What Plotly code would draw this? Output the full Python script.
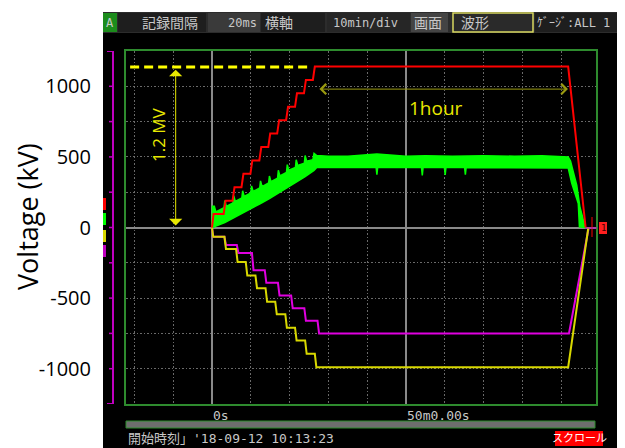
import plotly.graph_objects as go

# ---------------- data ----------------
# time in minutes (10 min/div, 0 s at the first solid line), voltage in kV
red_pts = [(0, 0), (0.4, 95), (3.0, 95), (3.5, 190), (5.3, 190), (5.8, 285), (7.6, 285), (8.1, 380),
           (9.9, 380), (10.4, 475), (12.2, 475), (12.7, 570), (14.5, 570), (15.0, 665), (16.8, 665),
           (17.3, 760), (19.1, 760), (19.6, 855), (21.4, 855), (21.9, 950), (23.7, 950), (24.2, 1045),
           (26.0, 1045), (26.5, 1140), (91.8, 1140), (96.3, 0)]

yellow_pts = [(0, 0), (0.3, -66), (3.2, -66), (3.6, -152), (6.2, -152), (6.6, -245), (8.7, -245),
              (9.1, -340), (11.2, -340), (11.6, -430), (13.8, -430), (14.2, -525), (16.3, -525),
              (16.7, -615), (18.9, -615), (19.3, -710), (21.4, -710), (21.8, -800), (24.0, -800),
              (24.4, -895), (26.5, -895), (26.9, -989), (91.8, -989), (97.0, 0)]

magenta_pts = [(0, 0), (0.3, -66), (3.2, -66), (3.6, -124), (6.4, -124), (6.8, -181), (10.3, -181),
               (10.7, -302), (13.6, -302), (14.0, -392), (17.0, -392), (17.4, -482), (20.4, -482),
               (20.8, -571), (23.8, -571), (24.2, -661), (27.2, -661), (27.6, -751), (92.0, -751),
               (97.1, 0)]

green_upper = [(0.0, 0), (0.1, 150), (0.6, 150), (1.0, 110), (3.1, 140), (3.3, 190), (3.7, 150),
               (5.4, 175), (5.6, 225), (6.0, 185), (7.7, 210), (7.9, 260), (8.3, 220), (10.0, 245),
               (10.2, 295), (10.6, 255), (12.3, 280), (12.5, 330), (12.9, 290), (14.6, 315),
               (14.8, 365), (15.2, 325), (16.9, 350), (17.1, 405), (17.5, 365), (19.2, 390),
               (19.4, 445), (19.8, 405), (21.5, 425), (21.7, 480), (22.1, 440), (23.8, 455),
               (24.0, 510), (24.4, 470), (26.0, 480), (26.3, 525), (27.0, 510), (30.0, 505),
               (35.0, 505), (42.5, 520), (50.0, 505), (55.0, 508), (62.0, 505), (70.0, 508),
               (78.0, 505), (85.0, 508), (91.8, 500), (92.4, 470), (93.2, 385), (94.0, 300),
               (94.8, 150), (95.5, 70), (96.2, 0)]

green_lower = [(0.3, 0), (1.0, 10), (3.3, 35), (5.6, 65), (7.9, 100), (10.2, 135), (12.5, 170),
               (14.8, 205), (17.1, 245), (19.4, 280), (21.7, 320), (24.0, 360), (26.3, 405),
               (27.0, 425), (42.3, 425), (42.5, 375), (42.7, 425), (54.0, 425), (54.2, 368),
               (54.4, 425), (59.9, 425), (60.1, 372), (60.3, 425), (65.1, 425), (65.3, 375),
               (65.5, 425), (91.8, 422), (92.7, 315), (94.4, 170), (94.7, 5), (96.2, 0)]

y_tick_vals = [-1000, -500, 0, 500, 1000]
y_tick_text = ["-1000", "-500", "0", "500", "1000"]
x_grid_vals = [-20, -10, 10, 20, 30, 40, 60, 70, 80, 90]
y_minor_vals = [-750, -250, 250, 750]
bracket_vals = [-1000, -750, -500, -250, 0, 250, 500, 750, 1000]

# ---------------- layout geometry (reference pixels) ----------------
OFF = 8                      # page body margin
W, H = 625 - OFF, 448 - OFF  # figure size
L, R, T, B = 126, 596, 51, 404
X_RANGE = [-22.165, 98.969]
Y_RANGE = [-1250, 1250]


def px(x):
    return (x - L) / (R - L)


def py(y):
    return (B - y) / (B - T)


def unzip(pts):
    return [p[0] for p in pts], [p[1] for p in pts]


fig = go.Figure()

gx_u, gy_u = unzip(green_upper)
gx_l, gy_l = unzip(green_lower)
fig.add_trace(go.Scatter(x=gx_u + gx_l[::-1], y=gy_u + gy_l[::-1], mode="lines", fill="toself",
                         fillcolor="#00ff00", line=dict(color="#00ff00", width=1.5), hoverinfo="skip"))
for pts, col in [(magenta_pts, "#e000e0"), (yellow_pts, "#d8d800"), (red_pts, "#ff0000")]:
    xs, ys = unzip(pts)
    fig.add_trace(go.Scatter(x=xs, y=ys, mode="lines", line=dict(color=col, width=2), hoverinfo="skip"))

shapes = []
# black instrument screen
shapes.append(dict(type="rect", xref="paper", yref="paper", x0=px(103), x1=px(640), y0=py(460), y1=py(12),
                   fillcolor="black", line=dict(width=0), layer="below"))
# header bar
shapes.append(dict(type="rect", xref="paper", yref="paper", x0=px(103), x1=px(640), y0=py(33), y1=py(12),
                   fillcolor="#2c2c2c", line=dict(width=0)))
header_boxes = [(103, 117, "#1c8c1c", None), (118, 206, "#1e1e1e", None), (208, 260, "#3a3a3a", None),
                (261, 325, "#1e1e1e", None), (327, 410, "#262626", None), (411, 448, "#444444", None),
                (453, 533, "#2a2a2a", "#d8d860"), (535, 640, "#1e1e1e", None)]
for x0, x1, fc, lc in header_boxes:
    shapes.append(dict(type="rect", xref="paper", yref="paper", x0=px(x0), x1=px(x1), y0=py(32), y1=py(13),
                       fillcolor=fc, line=dict(width=1.5 if lc else 0, color=lc or fc)))
# solid 50 min line
shapes.append(dict(type="line", xref="x", yref="paper", x0=50, x1=50, y0=0, y1=1,
                   line=dict(color="#8a8a8a", width=2), layer="between"))
# yellow dashed 1.2 MV level
shapes.append(dict(type="line", xref="x", yref="y", x0=-21.1, x1=25.3, y0=1137, y1=1137,
                   line=dict(color="#ffff00", width=3, dash="9px,5px")))
# magenta scale bracket
MG = "#c000c0"
shapes.append(dict(type="line", xref="paper", yref="y", x0=px(113), x1=px(113), y0=-1250, y1=1250,
                   line=dict(color=MG, width=2)))
for yv in (-1250, 1250):
    shapes.append(dict(type="line", xref="paper", yref="y", x0=px(107), x1=px(113), y0=yv, y1=yv,
                       line=dict(color=MG, width=2)))
for yv in bracket_vals:
    shapes.append(dict(type="line", xref="paper", yref="y", x0=px(109), x1=px(113), y0=yv, y1=yv,
                       line=dict(color=MG, width=1.5)))
# channel markers at the left
for y0, y1, c in [(198, 210, "#ff0000"), (213, 225, "#00ff00"), (230, 242, "#d8d800"), (245, 257, MG)]:
    shapes.append(dict(type="rect", xref="paper", yref="paper", x0=px(103), x1=px(106), y0=py(y1), y1=py(y0),
                       fillcolor=c, line=dict(width=0)))
# trigger marker at right
shapes.append(dict(type="line", xref="paper", yref="paper", x0=px(592), x1=px(592), y0=py(237), y1=py(217),
                   line=dict(color="#ff0000", width=1)))
shapes.append(dict(type="line", xref="paper", yref="paper", x0=px(585), x1=px(597), y0=py(228), y1=py(228),
                   line=dict(color=MG, width=1)))
shapes.append(dict(type="rect", xref="paper", yref="paper", x0=px(599), x1=px(607), y0=py(234), y1=py(222),
                   fillcolor="#ff2020", line=dict(width=0)))
# scroll bar
shapes.append(dict(type="rect", xref="paper", yref="paper", x0=px(126), x1=px(595), y0=py(428), y1=py(421),
                   fillcolor="#6e6e6e", line=dict(color="#2a8a2a", width=1)))
# red scroll badge
shapes.append(dict(type="rect", xref="paper", yref="paper", x0=px(555), x1=px(603), y0=py(446), y1=py(431),
                   fillcolor="#ff0000", line=dict(width=0)))

annotations = []
HF = "DejaVu Sans Mono, Noto Sans CJK JP"
TXT = "#c8c8c8"
header_texts = [("A", 110, 12), ("記録間隔", 170, 14), ("20ms", 242, 12), ("横軸", 279, 14),
                ("10min/div", 365, 12), ("画面", 428, 14), ("波形", 475, 14)]
for txt, cx, fs in header_texts:
    annotations.append(dict(text=txt, x=px(cx), y=py(22.5), xref="paper", yref="paper", showarrow=False,
                            xanchor="center", yanchor="middle", font=dict(family=HF, size=fs, color=TXT)))
annotations.append(dict(text="ｹﾞｰｼﾞ:ALL 1", x=px(535), y=py(22.5), xref="paper", yref="paper",
                        showarrow=False, xanchor="left", yanchor="middle",
                        font=dict(family=HF, size=12, color=TXT)))
# bottom time labels
annotations.append(dict(text="0s", x=px(211), y=py(415), xref="paper", yref="paper", showarrow=False,
                        xanchor="left", yanchor="middle", font=dict(family=HF, size=13, color=TXT)))
annotations.append(dict(text="50m0.00s", x=px(405), y=py(415), xref="paper", yref="paper", showarrow=False,
                        xanchor="left", yanchor="middle", font=dict(family=HF, size=13, color=TXT)))
annotations.append(dict(text="開始時刻」'18-09-12 10:13:23", x=px(126), y=py(438), xref="paper", yref="paper",
                        showarrow=False, xanchor="left", yanchor="middle",
                        font=dict(family=HF, size=13, color=TXT)))
annotations.append(dict(text="スクロール", x=px(579), y=py(438.5), xref="paper", yref="paper", showarrow=False,
                        xanchor="center", yanchor="middle", font=dict(family=HF, size=11, color="white")))
annotations.append(dict(text="1", x=px(603), y=py(228), xref="paper", yref="paper", showarrow=False,
                        xanchor="center", yanchor="middle", font=dict(family=HF, size=9, color="#400000")))
# axis title
annotations.append(dict(text="Voltage (kV)", x=px(27), y=py(217), xref="paper", yref="paper", showarrow=False,
                        textangle=-90, xanchor="center", yanchor="middle",
                        font=dict(family="Open Sans", size=27, color="black")))
# 1.2 MV double arrow
annotations.append(dict(x=-9.36, y=1118, ax=-9.36, ay=4, xref="x", yref="y", axref="x", ayref="y", text="",
                        showarrow=True, arrowhead=1, startarrowhead=1, arrowside="end+start",
                        arrowsize=2.2, arrowwidth=1, arrowcolor="#e8e800"))
annotations.append(dict(text="1.2 MV", x=px(158), y=py(135), xref="paper", yref="paper", showarrow=False,
                        textangle=-90, xanchor="center", yanchor="middle",
                        font=dict(family="Open Sans", size=17, color="#e8e800")))
# 1 hour double arrow
annotations.append(dict(x=91.75, y=980, ax=27.3, ay=980, xref="x", yref="y", axref="x", ayref="y", text="",
                        showarrow=True, arrowhead=4, startarrowhead=4, arrowside="end+start",
                        arrowsize=2, arrowwidth=1, arrowcolor="#9a9a10"))
annotations.append(dict(text="1hour", x=px(436), y=py(108), xref="paper", yref="paper", showarrow=False,
                        xanchor="center", yanchor="middle",
                        font=dict(family="Open Sans", size=19, color="#e8e800")))

GRID = "#6a6a6a"
fig.update_layout(
    width=W, height=H, margin=dict(l=L - OFF, r=625 - R, t=T - OFF, b=448 - B, pad=0),
    paper_bgcolor="white", plot_bgcolor="black", showlegend=False,
    shapes=shapes, annotations=annotations,
    xaxis=dict(range=X_RANGE, tickvals=x_grid_vals, showticklabels=False, ticks="",
               showgrid=True, gridcolor=GRID, gridwidth=1, griddash="1.5px,2px",
               zeroline=True, zerolinecolor="#8a8a8a", zerolinewidth=2,
               showline=True, linecolor="#2e8b2e", linewidth=2, mirror=True, fixedrange=True),
    yaxis=dict(range=Y_RANGE, tickvals=y_tick_vals, ticktext=y_tick_text, ticks="",
               tickfont=dict(family="Open Sans", size=20, color="black"), ticklabelstandoff=29,
               showgrid=True, gridcolor=GRID, gridwidth=1, griddash="1.5px,2px",
               minor=dict(tickvals=y_minor_vals, showgrid=True, gridcolor=GRID, gridwidth=1,
                          griddash="1.5px,2px", ticks=""),
               zeroline=True, zerolinecolor="#8a8a8a", zerolinewidth=2,
               showline=True, linecolor="#2e8b2e", linewidth=2, mirror=True, fixedrange=True),
)

fig.write_html("out.html")
